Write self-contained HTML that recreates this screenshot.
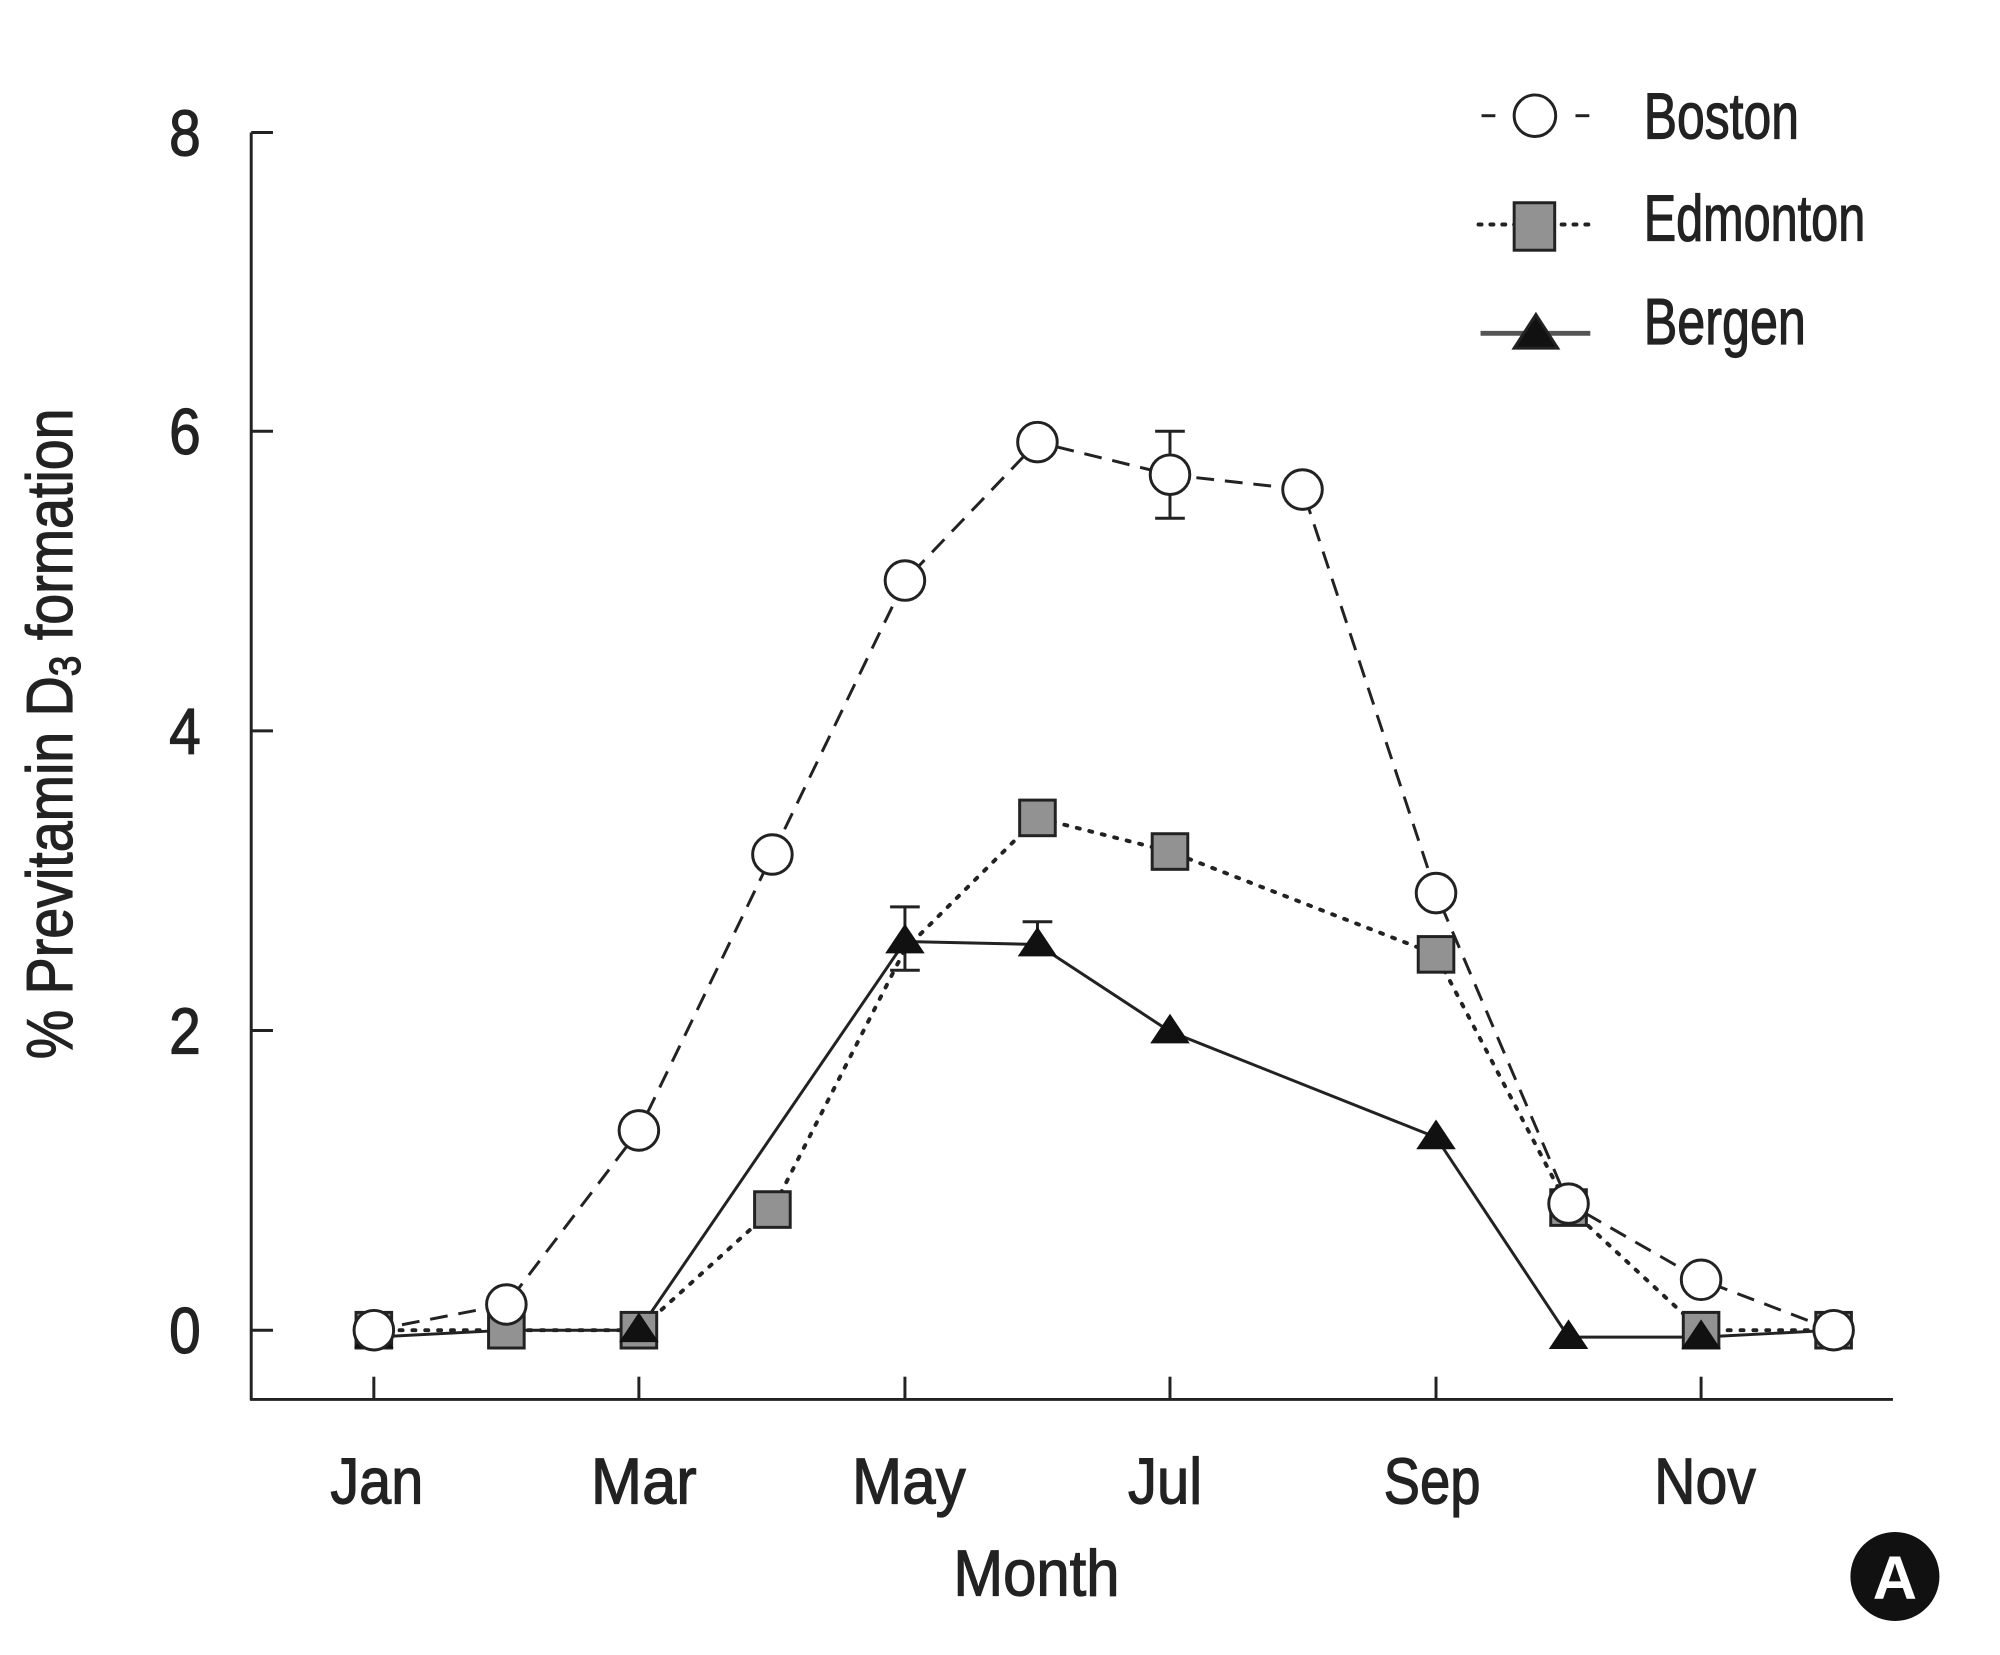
<!DOCTYPE html>
<html><head><meta charset="utf-8"><style>html,body{margin:0;padding:0;background:#fff}svg{display:block}</style></head>
<body>
<svg width="2000" height="1655" viewBox="0 0 2000 1655" xmlns="http://www.w3.org/2000/svg" font-family="Liberation Sans, sans-serif" fill="#222">
<g transform="scale(0.989)">
<g stroke="#222" stroke-width="3" fill="none">
<line x1="254" y1="134" x2="254" y2="1416"/>
<line x1="253" y1="1415" x2="1914" y2="1415"/>
<line x1="254" y1="134" x2="276" y2="134"/>
<line x1="254" y1="436" x2="276" y2="436"/>
<line x1="254" y1="739" x2="276" y2="739"/>
<line x1="254" y1="1042" x2="276" y2="1042"/>
<line x1="254" y1="1345" x2="276" y2="1345"/>
<line x1="378" y1="1415" x2="378" y2="1392"/>
<line x1="646" y1="1415" x2="646" y2="1392"/>
<line x1="915" y1="1415" x2="915" y2="1392"/>
<line x1="1183" y1="1415" x2="1183" y2="1392"/>
<line x1="1452" y1="1415" x2="1452" y2="1392"/>
<line x1="1720" y1="1415" x2="1720" y2="1392"/>
</g>
<g font-size="66" text-anchor="middle" stroke="#222" stroke-width="1.2">
<text x="187" y="157" textLength="32" lengthAdjust="spacingAndGlyphs">8</text>
<text x="187" y="459" textLength="32" lengthAdjust="spacingAndGlyphs">6</text>
<text x="187" y="762" textLength="32" lengthAdjust="spacingAndGlyphs">4</text>
<text x="187" y="1065" textLength="32" lengthAdjust="spacingAndGlyphs">2</text>
<text x="187" y="1368" textLength="32" lengthAdjust="spacingAndGlyphs">0</text>
<text x="381" y="1520" textLength="94" lengthAdjust="spacingAndGlyphs">Jan</text>
<text x="651" y="1520" textLength="107" lengthAdjust="spacingAndGlyphs">Mar</text>
<text x="919" y="1520" textLength="115" lengthAdjust="spacingAndGlyphs">May</text>
<text x="1178" y="1520" textLength="75" lengthAdjust="spacingAndGlyphs">Jul</text>
<text x="1448" y="1520" textLength="98" lengthAdjust="spacingAndGlyphs">Sep</text>
<text x="1724" y="1520" textLength="103" lengthAdjust="spacingAndGlyphs">Nov</text>
<text x="1048" y="1613" textLength="168" lengthAdjust="spacingAndGlyphs">Month</text>
<text transform="translate(73,742) rotate(-90)" x="0" y="0" textLength="658" lengthAdjust="spacingAndGlyphs">% Previtamin D<tspan font-size="44" dy="8">3</tspan><tspan dy="-8"> formation</tspan></text>
</g>
<g font-size="66" stroke="#222" stroke-width="1.2">
<text x="1662" y="140" textLength="157" lengthAdjust="spacingAndGlyphs">Boston</text>
<text x="1662" y="243" textLength="224" lengthAdjust="spacingAndGlyphs">Edmonton</text>
<text x="1662" y="348" textLength="164" lengthAdjust="spacingAndGlyphs">Bergen</text>
</g>
<g stroke="#222" stroke-width="3" transform="translate(15,0)">
<line x1="1483" y1="117" x2="1497" y2="117"/><line x1="1578" y1="117" x2="1592" y2="117"/>
<circle cx="1537" cy="117" r="21" fill="#fff"/>
<line x1="1480" y1="227" x2="1596" y2="227" stroke-dasharray="3 9" stroke-linecap="round" stroke-width="4"/>
<rect x="1516" y="205" width="41" height="48" fill="#929292"/>
<line x1="1482" y1="337" x2="1593" y2="337" stroke="#555" stroke-width="5"/>
<polygon points="1538,318 1560,352 1516,352" fill="#111"/>
</g>
<g stroke="#222" stroke-width="3" fill="none">
<polyline stroke-dasharray="18 11" points="378,1345 512,1319 646,1143 781,864 915,587 1049,447 1183,480 1317,495 1452,903 1586,1217 1720,1294 1854,1345"/>
<line x1="1183" y1="436" x2="1183" y2="524"/><line x1="1168" y1="436" x2="1198" y2="436"/><line x1="1168" y1="524" x2="1198" y2="524"/>
<polyline stroke-dasharray="3 10" stroke-linecap="round" stroke-width="4" points="378,1345 512,1345 646,1345 781,1223 915,960 1049,827 1183,861 1452,965 1586,1221 1720,1345 1854,1345"/>
<polyline points="378,1352 512,1345 646,1345 915,952 1049,955 1183,1043 1452,1150 1586,1352 1720,1352 1854,1345"/>
<line x1="915" y1="917" x2="915" y2="981"/><line x1="900" y1="917" x2="930" y2="917"/><line x1="900" y1="981" x2="930" y2="981"/>
<line x1="1049" y1="932" x2="1049" y2="955"/><line x1="1034" y1="932" x2="1064" y2="932"/>
</g>
<g stroke="#222" stroke-width="3" fill="#929292">
<rect x="360" y="1327" width="36" height="36"/><rect x="494" y="1327" width="36" height="36"/><rect x="628" y="1327" width="36" height="36"/>
<rect x="763" y="1205" width="36" height="36"/><rect x="1031" y="809" width="36" height="36"/><rect x="1165" y="843" width="36" height="36"/>
<rect x="1434" y="947" width="36" height="36"/><rect x="1568" y="1203" width="36" height="36"/><rect x="1702" y="1327" width="36" height="36"/><rect x="1836" y="1327" width="36" height="36"/>
</g>
<g fill="#111">
<polygon points="378,1333 398,1363 358,1363"/><polygon points="646,1327 666,1357 626,1357"/>
<polygon points="915,934 935,964 895,964"/><polygon points="1049,937 1069,967 1029,967"/><polygon points="1183,1025 1203,1055 1163,1055"/>
<polygon points="1452,1132 1472,1162 1432,1162"/><polygon points="1586,1334 1606,1364 1566,1364"/><polygon points="1720,1334 1740,1364 1700,1364"/>
</g>
<g stroke="#222" stroke-width="3" fill="#fff">
<circle cx="378" cy="1345" r="20"/><circle cx="512" cy="1319" r="20"/><circle cx="646" cy="1143" r="20"/><circle cx="781" cy="864" r="20"/>
<circle cx="915" cy="587" r="20"/><circle cx="1049" cy="447" r="20"/><circle cx="1183" cy="480" r="20"/><circle cx="1317" cy="495" r="20"/>
<circle cx="1452" cy="903" r="20"/><circle cx="1586" cy="1217" r="20"/><circle cx="1720" cy="1294" r="20"/><circle cx="1854" cy="1345" r="20"/>
</g>
<circle cx="1916" cy="1594" r="45" fill="#111"/>
<text x="1916" y="1617" font-size="62" font-weight="bold" fill="#fff" text-anchor="middle">A</text>
</g>
</svg>
</body></html>
